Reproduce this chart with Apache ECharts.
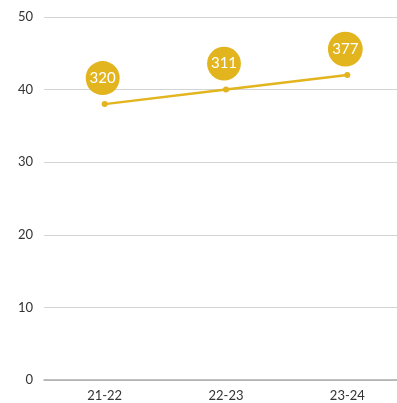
<!DOCTYPE html>
<html>
<head>
<meta charset="utf-8">
<script src="https://cdn.jsdelivr.net/npm/echarts@6/dist/echarts.min.js"></script>
<style>
  html, body { margin: 0; padding: 0; background: #fff; overflow: hidden; }
  #chart { width: 408px; height: 403px; }
</style>
</head>
<body>
<div id="chart"></div>
<script>
// Seasons, the plotted rate and the count shown in each bubble
const categories = ['21-22', '22-23', '23-24'];
const rates = [38, 40, 42];
const counts = [320, 311, 377];
const yTicks = { min: 0, max: 50, interval: 10 };

const gold = '#E2B41E';
const font = 'Lato, "Open Sans", sans-serif';

const chart = echarts.init(document.getElementById('chart'));
chart.setOption({
  animation: false,
  grid: { left: 44, right: 0, top: 17, bottom: 23, containLabel: false },
  xAxis: {
    type: 'category',
    data: categories,
    axisLine: { lineStyle: { color: '#aaaaaa', width: 1.5 } },
    axisTick: { show: false },
    axisLabel: { color: '#333', fontSize: 13, fontFamily: font, margin: 9 }
  },
  yAxis: {
    type: 'value',
    min: yTicks.min,
    max: yTicks.max,
    interval: yTicks.interval,
    axisLine: { show: false },
    axisTick: { show: false },
    axisLabel: { color: '#333', fontSize: 13, fontFamily: font, margin: 11 },
    splitLine: { lineStyle: { color: '#d4d4d4', width: 1 } }
  },
  series: [
    {
      type: 'line',
      data: rates,
      symbol: 'circle',
      symbolSize: 6,
      lineStyle: { color: gold, width: 2.5 },
      itemStyle: { color: gold },
      z: 2
    },
    {
      type: 'scatter',
      data: rates,
      symbol: 'circle',
      // bubble grows gently with the count it carries
      symbolSize: (v, p) => 34 * Math.pow(counts[p.dataIndex] / 320, 0.15),
      symbolOffset: [-2, -26],
      itemStyle: { color: gold, opacity: 1 },
      label: {
        show: true,
        position: 'inside',
        color: '#fff',
        fontSize: 15,
        fontFamily: font,
        formatter: p => String(counts[p.dataIndex])
      },
      z: 3
    }
  ]
});
</script>
</body>
</html>
